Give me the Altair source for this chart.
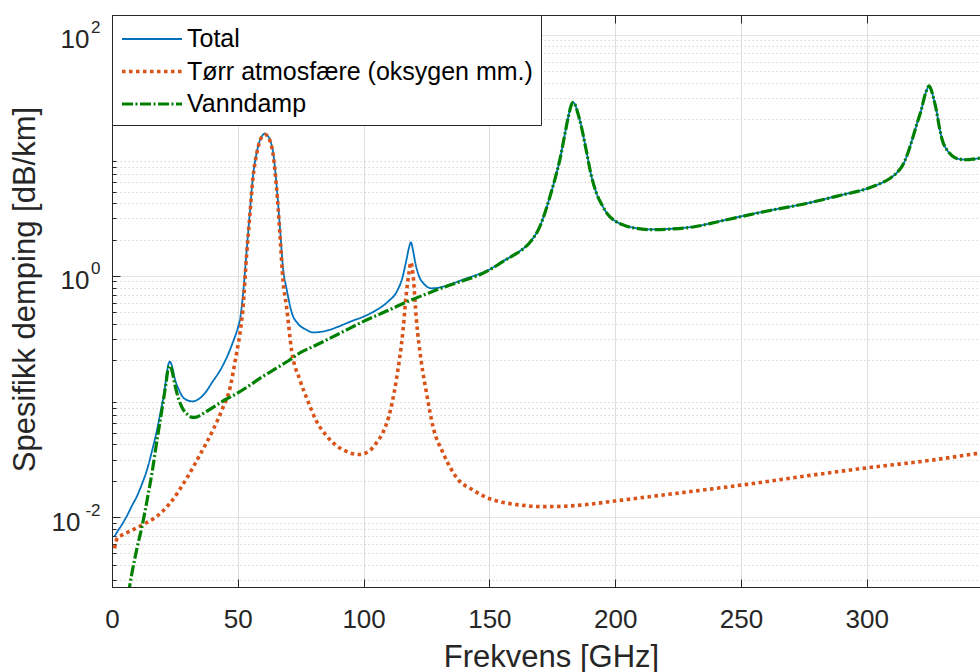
import altair as alt
import pandas as pd

FONT = "Liberation Sans"
TXT = "#262626"

SERIES = ["Total", "Tørr atmosfære (oksygen mm.)", "Vanndamp"]
COLORS = ["#0072BD", "#D95319", "#008000"]
DASHES = [[1, 0], [3.5, 3.5], [11, 2.5, 2, 2.5]]
WIDTHS = [1.8, 3.6, 3.2]

X_TICKS = [0, 50, 100, 150, 200, 250, 300]
Y_MAJOR = [0.01, 1, 100]
Y_EXP = {"0.01": "-2", "1": "0", "100": "2"}
Y_MINOR = [0.003, 0.004, 0.005, 0.006, 0.007, 0.008, 0.009,
           0.02, 0.03, 0.04, 0.05, 0.06, 0.07, 0.08, 0.09,
           0.2, 0.3, 0.4, 0.5, 0.6, 0.7, 0.8, 0.9,
           2, 3, 4, 5, 6, 7, 8, 9,
           20, 30, 40, 50, 60, 70, 80, 90]

# Total
tot_f = [1, 2, 4, 6, 8, 10, 12, 14, 16, 18, 19.5, 20.5, 21.5, 22.3, 23, 23.8, 25, 26.5, 28, 30,
         32, 34, 37, 40, 43, 46, 48, 50, 51, 52, 53.5, 54.8, 56, 57.5, 58.8, 60, 60.8, 61.6,
         62.8, 64, 65.4, 66.7, 68, 69.4, 71.4, 74, 77, 80, 85, 90, 95, 100, 105, 110, 113,
         115.5, 117, 118, 118.8, 119.6, 120.5, 122, 124, 127, 130, 135, 140, 146, 150, 155,
         160, 163, 167, 170, 172, 174, 176, 178, 180, 181.5, 182.5, 183.3, 184.2, 185, 186.5,
         188.5, 190.5, 192.5, 195, 197, 200, 204, 208, 215, 222, 232, 240, 249.5, 260, 276,
         290, 300, 305, 309, 312, 314, 316, 318, 320, 321.7, 323, 324, 324.7, 325.5, 326.5,
         327.6, 329, 330, 332, 334, 337, 339.6, 342, 345]
tot_v = [0.0069, 0.0075, 0.0087, 0.0103, 0.0125, 0.015, 0.019, 0.025, 0.036, 0.054, 0.078, 0.1,
         0.14, 0.18, 0.195, 0.18, 0.14, 0.115, 0.1, 0.093,
         0.091, 0.094, 0.107, 0.133, 0.165, 0.22, 0.28, 0.37, 0.45, 0.68, 1.6, 3.4, 6.6, 10.5,
         13.4, 14.8, 15.2, 14.8,
         13.4, 10.7, 5.7, 2.6, 1.15, 0.78, 0.5, 0.4, 0.36, 0.34, 0.35, 0.38, 0.42, 0.46, 0.52,
         0.62, 0.73,
         0.98, 1.35, 1.7, 1.9, 1.65, 1.3, 1.0, 0.86, 0.79, 0.8, 0.86, 0.94, 1.04, 1.13, 1.31,
         1.51, 1.66, 2.01, 2.56, 3.3, 4.5, 6.3, 9.2, 15, 21.5, 26, 27.5, 26, 23, 17.5,
         11, 6.8, 4.9, 3.8, 3.25, 2.86, 2.62, 2.5, 2.43, 2.46, 2.58, 2.8, 3.1, 3.45, 4.0,
         4.7, 5.3, 5.8, 6.4, 7.2, 8.1, 10, 13.4, 18.5, 24, 31, 35.5, 37.7, 35.5, 30,
         24, 16.5, 13.4, 11, 9.9, 9.3, 9.2, 9.3, 9.5]

# Dry atmosphere (oxygen etc.)
dry_f = [1, 2, 4, 7, 12, 17.7, 23, 29.7, 35, 40, 44, 47, 49, 50.9, 52, 53.5, 54.8, 56, 57.5,
         58.8, 60, 60.8, 61.6, 62.8, 64, 65.4, 66.7, 68, 69.4, 71.4, 74.7, 78, 81, 85, 88, 92,
         98, 102, 105, 108, 110, 113, 115.7, 117, 118, 118.8, 119.6, 121, 123, 125, 127.6,
         131.6, 138, 143, 149, 155, 162, 171, 180, 190, 200, 225, 250, 275, 300, 325, 345]
dry_v = [0.0055, 0.0066, 0.0071, 0.0076, 0.0086, 0.0101, 0.013, 0.021, 0.033, 0.052, 0.08, 0.12,
         0.2, 0.34, 0.52, 1.5, 3.2, 6.4, 10.3,
         13.2, 14.6, 14.9, 14.6, 13.2, 10.3, 5.4, 2.3, 0.9, 0.55, 0.24, 0.137, 0.09, 0.064,
         0.048, 0.041, 0.036,
         0.033, 0.035, 0.041, 0.052, 0.068, 0.137, 0.36, 0.72, 1.05, 1.3, 1.05, 0.43, 0.19,
         0.107, 0.056,
         0.034, 0.02, 0.017, 0.0145, 0.0133, 0.0126, 0.0122, 0.0123, 0.0128, 0.0136, 0.0158,
         0.0184, 0.0218, 0.0256, 0.0295, 0.034]

# Water vapour
wv_f = [6.5, 8, 10, 12, 14, 16, 18, 19.5, 20.5, 21.5, 22.3, 23, 23.8, 25, 26.5, 28, 30, 32, 34,
        37, 40, 45, 50, 55, 60, 65, 70, 75, 80, 90, 100, 110, 118, 125, 130, 140, 146, 150,
        155, 160, 163, 167, 170, 172, 174, 176, 178, 180, 181.5, 182.5, 183.3, 184.2, 185,
        186.5, 188.5, 190.5, 192.5, 195, 197, 200, 204, 208, 215, 222, 232, 240, 249.5, 260,
        276, 290, 300, 305, 309, 312, 314, 316, 318, 320, 321.7, 323, 324, 324.7, 325.5,
        326.5, 327.6, 329, 330, 332, 334, 337, 339.6, 342, 345]
wv_v = [0.0023, 0.0035, 0.0056, 0.0085, 0.014, 0.024, 0.045, 0.07, 0.095, 0.13, 0.17, 0.18,
        0.165, 0.125, 0.095, 0.08, 0.071, 0.067, 0.068,
        0.074, 0.081, 0.094, 0.107, 0.125, 0.147, 0.17, 0.197, 0.232, 0.26, 0.33, 0.42, 0.52,
        0.62, 0.71, 0.78, 0.92, 1.02, 1.12,
        1.3, 1.5, 1.65, 2.0, 2.55, 3.3, 4.5, 6.3, 9.2, 15, 21.5, 26, 27.5, 26, 23,
        17.5, 11, 6.8, 4.9, 3.8, 3.25, 2.85, 2.61, 2.49, 2.42, 2.45, 2.57, 2.79, 3.09, 3.44,
        3.99, 4.69, 5.29, 5.8, 6.4, 7.2, 8.1, 10, 13.4, 18.5, 24, 31, 35.5, 37.7, 35.5,
        30, 24, 16.5, 13.4, 11, 9.9, 9.3, 9.2, 9.3, 9.5]

df = pd.concat([
    pd.DataFrame({"f": tot_f, "v": tot_v, "series": SERIES[0]}),
    pd.DataFrame({"f": dry_f, "v": dry_v, "series": SERIES[1]}),
    pd.DataFrame({"f": wv_f, "v": wv_v, "series": SERIES[2]}),
], ignore_index=True)

x_scale = alt.Scale(domain=[0, 345], nice=False, zero=False)
y_scale = alt.Scale(type="log", domain=[0.00263, 146], nice=False)

MAJOR_TEST = "abs(log(datum.value)/LN10 - round(log(datum.value)/LN10)) < 0.001"
NEG_TEST = "datum.value < 0.5"

LEG = alt.Legend(
    title=None, orient="none", legendX=0, legendY=0, direction="vertical",
    labelFont=FONT, labelFontSize=25, labelColor="#000000", labelLimit=600,
    symbolType="M-1,0H3", symbolSize=900, labelOffset=33,
    padding=8, rowPadding=2.5, fillColor="white", strokeColor=TXT,
)

x_main = alt.Axis(
    values=X_TICKS, orient="bottom", grid=True, gridColor="#dddddd", gridWidth=1,
    ticks=False, tickSize=0, domain=True, domainColor=TXT, domainWidth=1,
    labelFont=FONT, labelFontSize=26, labelColor=TXT, labelBaseline="alphabetic",
    labelPadding=40, labelFlush=False, labelOverlap=False,
    title="Frekvens [GHz]", titleFont=FONT, titleFontSize=31, titleFontWeight="normal",
    titleColor=TXT, titleX=439, titleY=79, titleBaseline="alphabetic",
)
y_main = alt.Axis(
    values=Y_MAJOR + Y_MINOR, orient="left", grid=True,
    gridColor={"condition": {"test": MAJOR_TEST, "value": "#dddddd"}, "value": "#d6d6d6"},
    gridDash={"condition": {"test": MAJOR_TEST, "value": [1, 0]}, "value": [1.5, 2.5]},
    ticks=False, tickSize=0, domain=True, domainColor=TXT, domainWidth=1,
    labelFont=FONT, labelFontSize=26, labelColor=TXT, labelOverlap=False,
    labelPadding={"condition": {"test": NEG_TEST, "value": 32}, "value": 23},
    labelOffset=5,
    labelExpr="(" + MAJOR_TEST + ") ? '10' : ''",
    title="Spesifikk demping [dB/km]", titleFont=FONT, titleFontSize=31,
    titleFontWeight="normal", titleColor=TXT, titleX=-78, titleY=274,
    titleBaseline="alphabetic",
)
y_exp = alt.Axis(
    values=Y_MAJOR, orient="left", grid=False, ticks=False, tickSize=0, domain=False,
    labelFont=FONT, labelFontSize=17, labelColor=TXT, labelOverlap=False,
    labelAlign="right", labelPadding=12, labelOffset=-7,
    labelExpr="datum.value > 10 ? '" + Y_EXP["100"] + "' : datum.value > 0.1 ? '"
              + Y_EXP["1"] + "' : '" + Y_EXP["0.01"] + "'",
    title=None,
)


def tick_axis(orient, values, size):
    return alt.Axis(values=values, orient=orient, offset=-size, tickSize=size,
                    ticks=True, tickColor=TXT, tickWidth=1, domain=False,
                    labels=False, grid=False, title=None)


enc_style = dict(
    color=alt.Color("series:N", scale=alt.Scale(domain=SERIES, range=COLORS), legend=LEG),
    strokeDash=alt.StrokeDash("series:N", scale=alt.Scale(type="ordinal", domain=SERIES, range=DASHES), legend=LEG),
    strokeWidth=alt.StrokeWidth("series:N", scale=alt.Scale(type="ordinal", domain=SERIES, range=WIDTHS), legend=LEG),
)


def line_layer(name, xa, ya):
    return alt.Chart().mark_line(clip=True, interpolate="monotone").encode(
        x=alt.X("f:Q", scale=x_scale, axis=xa),
        y=alt.Y("v:Q", scale=y_scale, axis=ya),
        **enc_style,
    ).transform_filter(alt.datum.series == name)


def ghost_layer(xa, ya):
    return alt.Chart().mark_point(opacity=0, size=1, clip=True).encode(
        x=alt.X("f:Q", scale=x_scale, axis=xa),
        y=alt.Y("v:Q", scale=y_scale, axis=ya),
    ).transform_filter(alt.datum.series == SERIES[0])


l_tot = line_layer(SERIES[0], x_main, y_main)
l_dry = line_layer(SERIES[1], None, None)
l_wv = line_layer(SERIES[2], None, None)

g1 = ghost_layer(tick_axis("bottom", X_TICKS, 8), tick_axis("left", Y_MAJOR, 8))
g2 = ghost_layer(
    alt.Axis(orient="top", domain=True, domainColor=TXT, ticks=False, labels=False,
             grid=False, title=None, values=X_TICKS),
    tick_axis("left", Y_MINOR, 4),
)
g3 = ghost_layer(tick_axis("top", X_TICKS, 8), y_exp)

chart = alt.layer(l_tot, l_dry, l_wv, g1, g2, g3, data=df).resolve_axis(
    x="independent", y="independent"
).properties(
    width=868, height=572,
    autosize=alt.AutoSizeParams(type="none"),
    padding={"left": 112, "top": 15, "right": 0, "bottom": 85},
    background="white",
).configure_view(stroke=None).configure(font=FONT)

chart.save("out.html", embed_options={"renderer": "svg", "actions": False})
